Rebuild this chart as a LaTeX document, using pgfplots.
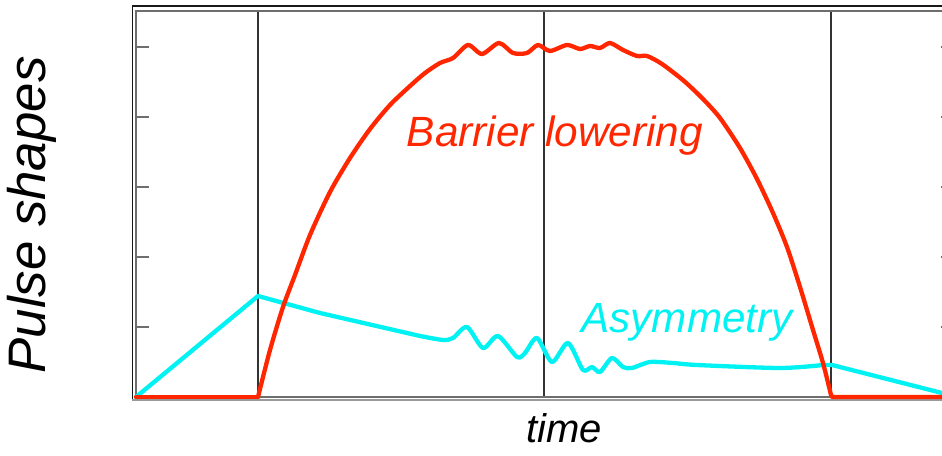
\documentclass[border=0pt]{standalone}
\usepackage{pgfplots}
\pgfplotsset{compat=1.18}
\usepackage{fontspec}
\setmainfont{Liberation Sans}
\definecolor{pred}{RGB}{255,38,0}
\definecolor{pcyan}{RGB}{0,242,242}
\definecolor{axgray}{RGB}{110,110,110}
\begin{document}
\begin{tikzpicture}
\begin{axis}[
  x=1pt, y=1pt,
  xmin=136, xmax=954, ymin=0, ymax=386,
  axis line style={draw=axgray, line width=2pt},
  xtick={258,544,831}, xticklabels={},
  xmajorgrids, major x grid style={draw=black!80, line width=1.1pt},
  xtick style={draw=none},
  ytick={70,140,210,280,350}, yticklabels={},
  ytick style={draw=axgray, line width=2pt},
  major tick length=13pt, tick align=inside,
  clip=false,
]
% outer frame
\draw[black!90, line width=1.6pt] (axis cs:132.5,-3) -- (axis cs:132.5,391) -- (axis cs:1000,391);
\draw[axgray!70, line width=1.2pt] (axis cs:132.5,-3) -- (axis cs:1000,-3);
% Asymmetry
\addplot[pcyan, line width=4.3pt, line join=round, line cap=round] coordinates {
 (136,0) (258,101) (320,84) (420,61)};
\addplot[pcyan, line width=4.3pt, smooth, tension=0.45, line join=round, line cap=round] coordinates {
 (420,61) (443,57) (453,59) (467,70) (483,49) (498,61) (517,40) (525,44) (537,59)
 (552,35) (568,54) (583,27) (592,30) (600,25) (612,39) (623,30) (632,29) (650,35)
 (673,34) (697,32) (780,29) (823,32)};
\addplot[pcyan, line width=4.3pt, line join=round, line cap=round] coordinates {
 (823,32) (832,32) (942,4) (954,1)};
% Barrier lowering
\addplot[pred, line width=4.3pt, line join=round, line cap=round] coordinates {
 (136,0) (258,0)};
\addplot[pred, line width=4.3pt, smooth, tension=0.45, line join=round, line cap=round] coordinates {
 (258,0) (270,47) (283,90) (295,122) (310,162) (330,205) (350,239) (370,268) (390,292)
 (410,311) (425,324) (440,334) (453,339) (468,352) (482,343) (499,354) (513,344)
 (527,344) (538,352) (550,346) (567,352) (580,348) (590,351) (600,349) (610,354)
 (623,347) (637,341) (647,341) (662,333) (684,316) (703,298) (720,279) (740,249)
 (757,218) (773,184) (787,150) (800,110) (813,67) (823,34) (831,2)};
\addplot[pred, line width=4.3pt, line join=round, line cap=round] coordinates {
 (831,2) (832,0) (954,0)};
% labels
\node[anchor=base, text=pred, font=\itshape\fontsize{42.3}{50}\selectfont] at (axis cs:555,250) {Barrier lowering};
\node[anchor=base, text=pcyan, font=\itshape\fontsize{42.2}{50}\selectfont] at (axis cs:687,64) {Asymmetry};
\node[anchor=base, font=\itshape\fontsize{40}{48}\selectfont] at (axis cs:564,-45) {time};
\node[anchor=base, rotate=90, font=\itshape\fontsize{52.8}{60}\selectfont] at (axis cs:46,182) {Pulse shapes};
\coordinate (bbll) at (axis cs:0,-58);
\coordinate (bbur) at (axis cs:942,397);
\end{axis}
\pgfresetboundingbox
\path[use as bounding box] (bbll) rectangle (bbur);
\end{tikzpicture}
\end{document}
